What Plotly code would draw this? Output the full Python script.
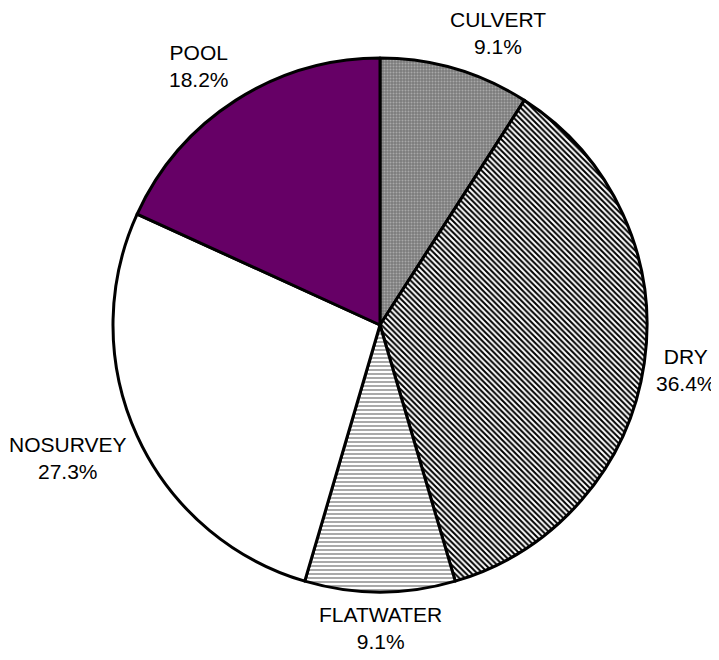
import math
import plotly.graph_objects as go

categories = ["CULVERT", "DRY", "FLATWATER", "NOSURVEY", "POOL"]
counts = [1, 4, 1, 3, 2]
pct_labels = ["9.1%", "36.4%", "9.1%", "27.3%", "18.2%"]

colors = ["#7c7c7c", "white", "white", "white", "#660066"]
shapes = [".", "\\", "-", "", ""]
fgcolors = ["#a8a8a8", "black", "#707070", "black", "black"]
sizes = [3, 4, 4, 8, 8]
solidity = [0.35, 0.5, 0.3, 0.3, 0.3]

# page body has an 8px margin, so the figure is slightly smaller than the window
W, H = 711, 652
ml, mt = 105, 50
pw = ph = 534
mr, mb = W - ml - pw, H - mt - ph

FONT_SIZE = 21

# approximate Arial advance widths (em) used to size the label boxes
CHAR_W = {"C": .722, "U": .722, "L": .556, "V": .667, "E": .667, "R": .722,
          "T": .611, "D": .722, "Y": .667, "F": .611, "A": .667, "W": .944,
          "N": .722, "O": .778, "S": .667, "P": .667, ".": .278, "%": .889}


def text_w(t):
    return FONT_SIZE * sum(CHAR_W.get(ch, .556) for ch in t)


fig = go.Figure(go.Pie(
    labels=categories,
    values=counts,
    sort=False,
    direction="clockwise",
    rotation=0,
    textinfo="none",
    hoverinfo="label+percent",
    marker=dict(
        colors=colors,
        line=dict(color="black", width=3),
        pattern=dict(shape=shapes, fgcolor=fgcolors, bgcolor=colors,
                     size=sizes, solidity=solidity, fillmode="replace"),
    ),
    domain=dict(x=[0, 1], y=[0, 1]),
    showlegend=False,
))


def clamp(v):
    return max(-1.0, min(1.0, v))


# label placement: near the rim point of each slice's mid-angle,
# shifted outward by part of the label box
total = sum(counts)
R = pw / 2
cx, cy = ml + pw / 2, mt + ph / 2
gap = 12
half_h = 24
cum = 0
annotations = []
for i, (cat, v) in enumerate(zip(categories, counts)):
    mid = (cum + v / 2) / total * 2 * math.pi
    cum += v
    s, c = math.sin(mid), -math.cos(mid)  # screen direction (down positive)
    half_w = max(text_w(cat), text_w(pct_labels[i])) / 2
    px = cx + (R + gap) * s + half_w * clamp(s / 0.35)
    py = cy + (R + gap) * c + half_h * clamp(c / 0.6)
    annotations.append(dict(
        x=(px - ml) / pw, y=(H - mb - py) / ph, xref="paper", yref="paper",
        text=f"{cat}<br>{pct_labels[i]}", showarrow=False,
        xanchor="center", yanchor="middle", align="center", borderpad=0,
        font=dict(family="Liberation Sans, Arial", size=FONT_SIZE, color="black"),
    ))

fig.update_layout(
    width=W, height=H,
    margin=dict(l=ml, r=mr, t=mt, b=mb),
    paper_bgcolor="white", plot_bgcolor="white",
    annotations=annotations,
)

fig.write_html("out.html")
